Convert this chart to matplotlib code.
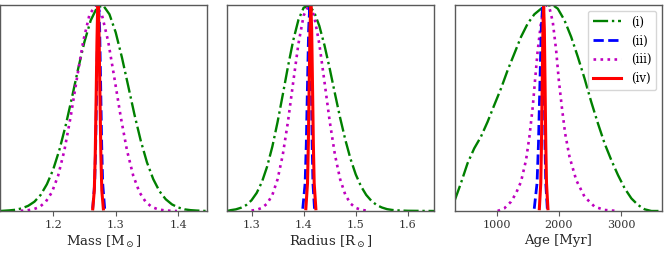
import matplotlib
matplotlib.use("Agg")
import matplotlib.pyplot as plt

plt.rcParams['font.family'] = ['DejaVu Serif']
plt.rcParams['mathtext.fontset'] = 'dejavuserif'

labels = ["(i)", "(ii)", "(iii)", "(iv)"]
xlabels = ["Mass [M$_\\odot$]", "Radius [R$_\\odot$]", "Age [Myr]"]
xlims = [(1.115, 1.446), (1.253, 1.65), (331, 3659)]
xticks = [[1.2, 1.3, 1.4], [1.3, 1.4, 1.5, 1.6], [1000, 2000, 3000]]

# ---- Mass panel ----
mass_i_x = [1.115, 1.12, 1.13, 1.14, 1.15, 1.16, 1.17, 1.18, 1.19, 1.20, 1.21, 1.22, 1.23, 1.24, 1.25,
            1.26, 1.27, 1.28, 1.29, 1.30, 1.31, 1.32, 1.33, 1.34, 1.35, 1.36, 1.37, 1.38, 1.39,
            1.40, 1.41, 1.42, 1.43, 1.446]
mass_i_y = [0.0, 0.001, 0.003, 0.006, 0.013, 0.025, 0.045, 0.078, 0.130, 0.201, 0.297, 0.415, 0.550,
            0.691, 0.821, 0.925, 0.987, 0.998, 0.955, 0.867, 0.745, 0.607, 0.468, 0.342, 0.236,
            0.155, 0.096, 0.057, 0.032, 0.017, 0.008, 0.004, 0.002, 0.0]
mass_ii_x = [1.2632, 1.2664, 1.2680, 1.2696, 1.2712, 1.2728, 1.2744, 1.2760, 1.2776, 1.2792, 1.2824]
mass_ii_y = [0.011, 0.135, 0.325, 0.607, 0.882, 1.0, 0.882, 0.607, 0.325, 0.135, 0.011]
mass_iii_x = [1.148, 1.158, 1.168, 1.178, 1.188, 1.198, 1.208, 1.218, 1.228, 1.238, 1.248, 1.258, 1.268,
              1.278, 1.288, 1.298, 1.308, 1.318, 1.328, 1.338, 1.348, 1.358, 1.368, 1.378, 1.388, 1.398]
mass_iii_y = [0.001, 0.003, 0.008, 0.019, 0.044, 0.091, 0.172, 0.295, 0.458, 0.644, 0.823, 0.952, 1.0,
              0.952, 0.823, 0.644, 0.458, 0.295, 0.172, 0.091, 0.044, 0.019, 0.008, 0.003, 0.001, 0.0]
mass_iv_x = [1.2633, 1.2658, 1.2673, 1.2688, 1.2700, 1.2709, 1.2718, 1.2727, 1.2736, 1.2748,
             1.2763, 1.2778, 1.2803]
mass_iv_y = [0.01, 0.10, 0.275, 0.563, 0.815, 0.95, 1.0, 0.95, 0.815, 0.563, 0.275, 0.10, 0.01]

# ---- Radius panel ----
rad_i_x = [1.253, 1.26, 1.27, 1.28, 1.29, 1.30, 1.31, 1.32, 1.33, 1.34, 1.35, 1.36, 1.37, 1.38, 1.39,
           1.40, 1.41, 1.42, 1.43, 1.44, 1.45, 1.46, 1.47, 1.48, 1.49, 1.50, 1.51, 1.52, 1.53,
           1.54, 1.55, 1.56, 1.57, 1.58, 1.60, 1.65]
rad_i_y = [0.0, 0.004, 0.008, 0.016, 0.029, 0.052, 0.088, 0.141, 0.216, 0.313, 0.432, 0.565, 0.702,
           0.828, 0.928, 0.987, 0.998, 0.967, 0.899, 0.804, 0.691, 0.570, 0.452, 0.345, 0.252,
           0.177, 0.120, 0.078, 0.049, 0.029, 0.017, 0.009, 0.005, 0.003, 0.001, 0.0]
rad_ii_x = [1.3983, 1.4028, 1.40505, 1.4073, 1.40955, 1.4118, 1.4133, 1.4148, 1.4163, 1.4178, 1.4208]
rad_ii_y = [0.011, 0.135, 0.325, 0.607, 0.882, 1.0, 0.882, 0.607, 0.325, 0.135, 0.011]
rad_iii_x = [1.30, 1.31, 1.32, 1.33, 1.34, 1.35, 1.36, 1.37, 1.38, 1.39, 1.40, 1.41,
             1.42, 1.43, 1.44, 1.45, 1.46, 1.47, 1.48, 1.49, 1.50, 1.51, 1.52]
rad_iii_y = [0.002, 0.006, 0.015, 0.036, 0.078, 0.154, 0.273, 0.435, 0.626, 0.812, 0.949, 1.0,
             0.949, 0.812, 0.626, 0.435, 0.273, 0.154, 0.078, 0.036, 0.015, 0.006, 0.002]
rad_iv_x = [1.4042, 1.4074, 1.4090, 1.4106, 1.4122, 1.4138, 1.4154, 1.4170, 1.4186, 1.4202, 1.4234]
rad_iv_y = [0.011, 0.135, 0.325, 0.607, 0.882, 1.0, 0.882, 0.607, 0.325, 0.135, 0.011]

# ---- Age panel ----
age_i_x = [328, 425, 532, 640, 747, 855, 962, 1070, 1177, 1285, 1392, 1500, 1607, 1715, 1823, 1903,
           1984, 2091, 2199, 2306, 2414, 2521, 2629, 2736, 2844, 2952, 3059, 3167, 3274, 3382,
           3489, 3667]
age_i_y = [0.053, 0.134, 0.231, 0.304, 0.360, 0.433, 0.514, 0.594, 0.683, 0.764, 0.845, 0.910, 0.955,
           0.982, 0.997, 1.0, 0.982, 0.926, 0.845, 0.748, 0.643, 0.530, 0.425, 0.328, 0.247, 0.174,
           0.110, 0.061, 0.029, 0.008, 0.0, 0.0]
age_ii_x = [1605, 1650, 1672.5, 1695, 1717.5, 1740, 1752.5, 1765, 1777.5, 1790, 1815]
age_ii_y = [0.011, 0.135, 0.325, 0.607, 0.882, 1.0, 0.882, 0.607, 0.325, 0.135, 0.011]
age_iii_x = [1016, 1124, 1231, 1312, 1392, 1473, 1527, 1581, 1618, 1661, 1715, 1769, 1806, 1849,
             1903, 1957, 2000, 2048, 2102, 2172, 2280, 2414, 2575, 2736, 2952]
age_iii_y = [0.0, 0.013, 0.045, 0.086, 0.142, 0.247, 0.360, 0.506, 0.635, 0.780, 0.918, 0.987, 1.0,
             0.987, 0.918, 0.780, 0.635, 0.506, 0.376, 0.263, 0.150, 0.069, 0.021, 0.005, 0.0]
age_iv_x = [1687, 1710, 1721.5, 1733, 1744.5, 1756, 1767.5, 1779, 1790.5, 1802, 1825]
age_iv_y = [0.011, 0.135, 0.325, 0.607, 0.882, 1.0, 0.882, 0.607, 0.325, 0.135, 0.011]

panels = [
    [(mass_i_x, mass_i_y), (mass_ii_x, mass_ii_y), (mass_iii_x, mass_iii_y), (mass_iv_x, mass_iv_y)],
    [(rad_i_x, rad_i_y), (rad_ii_x, rad_ii_y), (rad_iii_x, rad_iii_y), (rad_iv_x, rad_iv_y)],
    [(age_i_x, age_i_y), (age_ii_x, age_ii_y), (age_iii_x, age_iii_y), (age_iv_x, age_iv_y)],
]

styles = [
    dict(color='g', ls='-.', lw=1.7),
    dict(color='b', ls='--', lw=2.0),
    dict(color='m', ls=':', lw=1.9),
    dict(color='r', ls='-', lw=2.2),
]
draw_order = [0, 2, 1, 3]

W, H = 666, 254
fig = plt.figure(figsize=(W / 100, H / 100), dpi=100)
lefts = [0, 227, 455]
axw = 207
bottom = 43
axh = 206

for k in range(3):
    ax = fig.add_axes([lefts[k] / W, bottom / H, axw / W, axh / H])
    handles = [None] * 4
    for j in draw_order:
        x, y = panels[k][j]
        ln, = ax.plot(x, y, label=labels[j], **styles[j])
        handles[j] = ln
    ax.set_xlim(*xlims[k])
    ax.set_ylim(0, 1.0)
    ax.set_yticks([])
    ax.set_xticks(xticks[k])
    ax.tick_params(axis='x', labelsize=8, length=3.5, width=0.8, color='0.35',
                   labelcolor='0.2', pad=3)
    for s in ax.spines.values():
        s.set_color('0.35')
        s.set_linewidth(1.0)
    ax.set_xlabel(xlabels[k], fontsize=9.5, color='0.15', labelpad=3)
    if k == 2:
        ax.legend(handles=handles, labels=labels, loc='upper right', fontsize=8.5,
                  handlelength=2.45, borderpad=0.4, labelspacing=0.5,
                  handletextpad=0.8, borderaxespad=0.5)

fig.savefig("out.png", dpi=100)
